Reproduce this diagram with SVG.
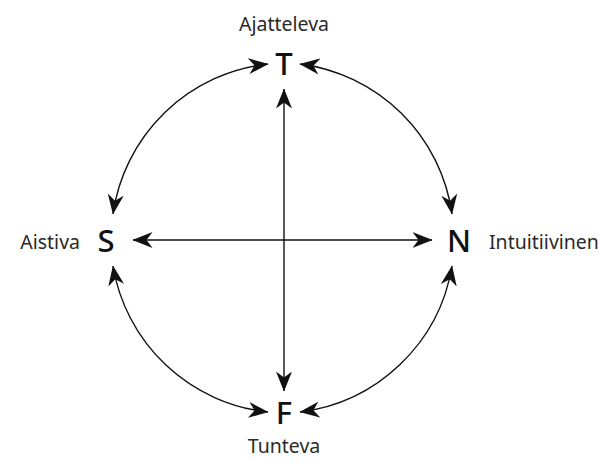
<svg xmlns="http://www.w3.org/2000/svg" width="616" height="461" viewBox="0 0 616 461">
<style>
.lbl{font-family:"Noto Sans","Open Sans",sans-serif;font-size:19.5px;fill:#2a2a2a}
.big{font-family:"Noto Sans","Open Sans",sans-serif;font-size:31px;font-weight:500;fill:#111}
.c{fill:none;stroke:#111;stroke-width:1.4}
</style>
<defs>
<marker id="ah" viewBox="0 0 20 16" refX="19.5" refY="8" markerWidth="20" markerHeight="16" markerUnits="userSpaceOnUse" orient="auto-start-reverse">
<path d="M0,0 L20,8 L0,16 L6,8 z" fill="#111"/>
</marker>
</defs>
<rect width="616" height="461" fill="#fff"/>
<g id="connectors">
<path class="c" d="M268,64 A176,176 0 0 0 113,214" marker-start="url(#ah)" marker-end="url(#ah)"/>
<path class="c" d="M300,64 A176,176 0 0 1 452,214" marker-start="url(#ah)" marker-end="url(#ah)"/>
<path class="c" d="M113,266 A176,176 0 0 0 268,412" marker-start="url(#ah)" marker-end="url(#ah)"/>
<path class="c" d="M452,266 A176,176 0 0 1 300,412" marker-start="url(#ah)" marker-end="url(#ah)"/>
<path class="c" d="M284,89 L284,391" marker-start="url(#ah)" marker-end="url(#ah)"/>
<path class="c" d="M133,240 L432,240" marker-start="url(#ah)" marker-end="url(#ah)"/>
</g>
<g id="T"><text class="big" x="284" y="75" text-anchor="middle">T</text><text class="lbl" x="284" y="31" text-anchor="middle">Ajatteleva</text></g>
<g id="S"><text class="big" x="106" y="252" text-anchor="middle">S</text><text class="lbl" x="80" y="249" text-anchor="end">Aistiva</text></g>
<g id="N"><text class="big" x="459" y="252" text-anchor="middle">N</text><text class="lbl" x="489" y="249">Intuitiivinen</text></g>
<g id="F"><text class="big" x="284" y="424" text-anchor="middle">F</text><text class="lbl" x="284" y="453" text-anchor="middle">Tunteva</text></g>
</svg>
